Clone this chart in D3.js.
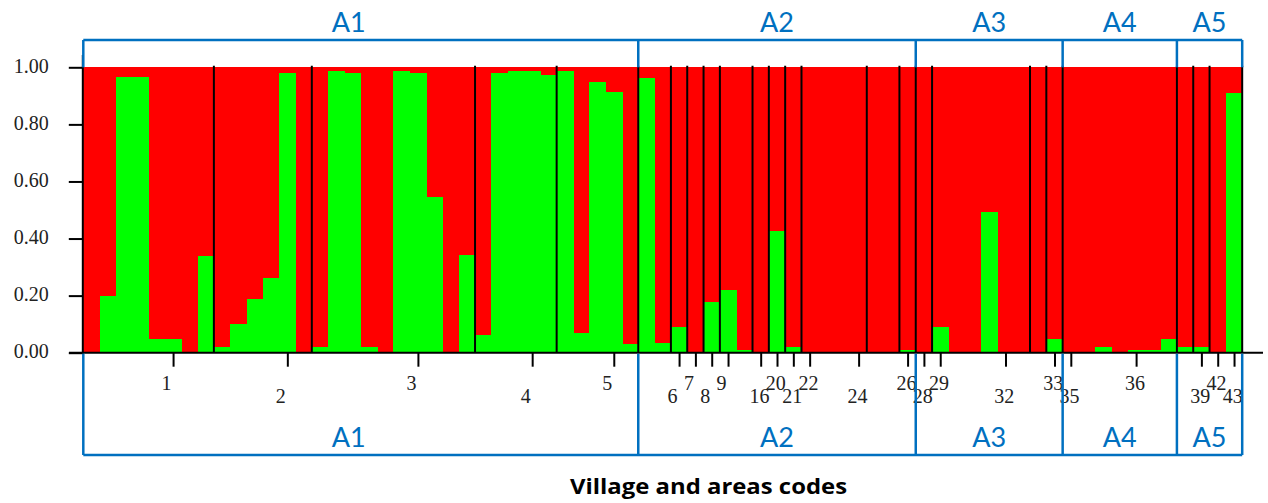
<!DOCTYPE html>
<html>
<head>
<meta charset="utf-8">
<script src="https://cdn.jsdelivr.net/npm/d3@7"></script>
<style>
  html, body { margin: 0; padding: 0; background: #ffffff; }
  svg { display: block; }
</style>
</head>
<body>
<svg id="chart" width="1268" height="503"></svg>
<script>
// ---- Data ----
// Green cluster membership (Q) of each individual, in plotting order; red = 1 - Q
const greenQ = [
  0, 0.20, 0.965, 0.965, 0.048, 0.048, 0, 0.34,          // village 1
  0.02, 0.10, 0.187, 0.26, 0.98, 0,                      // village 2
  0.02, 0.987, 0.981, 0.02, 0, 0.987, 0.981, 0.545, 0, 0.341, // village 3
  0.061, 0.981, 0.987, 0.987, 0.974,                     // village 4
  0.987, 0.07, 0.95, 0.914, 0.03,                        // village 5
  0.963, 0.033,                                          // 6
  0.091,                                                 // 7
  0,                                                     // 8
  0.177,                                                 // 9
  0.22, 0.01,                                            // 16
  0,                                                     // 20
  0.427,                                                 // 21
  0.02,                                                  // 22
  0, 0, 0, 0,                                            // 24
  0, 0,                                                  // 26
  0.01,                                                  // 28
  0,                                                     // 29
  0.09, 0, 0, 0.494, 0, 0,                               // 32
  0,                                                     // 33
  0.047,                                                 // 35
  0, 0, 0.02, 0, 0.01, 0.01, 0.047,                      // 36
  0.02,                                                  // 39
  0.02,                                                  // 42
  0, 0.911                                               // 43
];
// Village codes and number of individuals in each village group
const villageCodes = ["1","2","3","4","5","6","7","8","9","16","20","21","22","24","26","28","29","32","33","35","36","39","42","43"];
const villageSizes = [8, 6, 10, 5, 5, 2, 1, 1, 1, 2, 1, 1, 1, 4, 2, 1, 1, 6, 1, 1, 7, 1, 1, 2];
// Individual index under which each village code is written
const villageLabelAt = [5, 12, 20, 27, 32, 36, 37, 38, 39, 41, 42, 43, 44, 47, 50, 51, 52, 56, 59, 60, 64, 68, 69, 70];
// Areas and number of individuals in each
const areaNames = ["A1", "A2", "A3", "A4", "A5"];
const areaSizes = [34, 17, 9, 7, 4];
// Y axis ticks
const yTicks = [0, 0.2, 0.4, 0.6, 0.8, 1.0];
const xTitle = "Village and areas codes";

// ---- Layout ----
const svg = d3.select("#chart");
const pLeft = 83.3, pRight = 1242.2, pTop = 67.3, pBottom = 352.7;
const N = greenQ.length;
const x = d3.scaleLinear().domain([0, N]).range([pLeft, pRight]);
const y = d3.scaleLinear().domain([0, 1]).range([pBottom, pTop]);
const BLUE = "#0070C0";
const RED = "#ff0000", GREEN = "#00ff00";

// cumulative boundaries
const cum = arr => { const o = [0]; arr.forEach(v => o.push(o[o.length - 1] + v)); return o; };
const villBounds = cum(villageSizes);
const areaBounds = cum(areaSizes);

// ---- Bars ----
const bars = svg.append("g").attr("shape-rendering", "crispEdges");
bars.selectAll("rect.red").data(greenQ).join("rect")
  .attr("class", "red")
  .attr("x", (d, i) => x(i))
  .attr("width", (d, i) => x(i + 1) - x(i) + 0.6)
  .attr("y", y(1))
  .attr("height", y(0) - y(1))
  .attr("fill", RED);
bars.selectAll("rect.green").data(greenQ).join("rect")
  .attr("class", "green")
  .attr("x", (d, i) => x(i))
  .attr("width", (d, i) => x(i + 1) - x(i) + 0.6)
  .attr("y", d => y(d))
  .attr("height", d => y(0) - y(d))
  .attr("fill", GREEN);

// village separators
svg.append("g").selectAll("line").data(villBounds.slice(1)).join("line")
  .attr("x1", d => x(d)).attr("x2", d => x(d))
  .attr("y1", pTop - 1.5).attr("y2", pBottom)
  .attr("stroke", "#000").attr("stroke-width", 2);

// ---- Y axis ----
const yAxis = svg.append("g").attr("transform", `translate(${pLeft - 0.5},0)`)
  .call(d3.axisLeft(y).tickValues(yTicks).tickFormat(d3.format(".2f")).tickSize(14).tickPadding(20));
yAxis.select(".domain").remove();
yAxis.selectAll(".tick line").attr("stroke", "#000").attr("stroke-width", 2);
yAxis.selectAll(".tick text")
  .attr("font-family", "'Liberation Serif', 'DejaVu Serif', serif")
  .attr("font-size", 20).attr("fill", "#222").attr("dy", "0.25em");
svg.append("line")
  .attr("x1", pLeft - 0.5).attr("x2", pLeft - 0.5)
  .attr("y1", 55).attr("y2", pBottom + 1)
  .attr("stroke", "#000").attr("stroke-width", 2);

// ---- X axis ----
const xAxis = svg.append("g").attr("transform", `translate(0,${pBottom})`)
  .call(d3.axisBottom(x).tickValues(villageLabelAt.map(i => i + 0.5)).tickFormat("").tickSize(14));
xAxis.select(".domain").remove();
xAxis.selectAll(".tick line").attr("stroke", "#000").attr("stroke-width", 2);
svg.append("line")
  .attr("x1", 69).attr("x2", 1263)
  .attr("y1", pBottom).attr("y2", pBottom)
  .attr("stroke", "#000").attr("stroke-width", 2);

svg.append("g").selectAll("text").data(villageCodes).join("text")
  .attr("x", (d, i) => x(villageLabelAt[i] + 0.5) + (d.length === 1 ? -6.5 : -1.2))
  .attr("y", (d, i) => i % 2 === 0 ? 390 : 403)
  .attr("text-anchor", "middle")
  .attr("font-family", "'Liberation Serif', 'DejaVu Serif', serif")
  .attr("font-size", 20).attr("fill", "#222")
  .text(d => d);

// ---- Area brackets ----
const boxes = svg.append("g").attr("fill", "none").attr("stroke", BLUE).attr("stroke-width", 2.5);
// top bracket
boxes.append("line").attr("x1", x(0)).attr("x2", x(N)).attr("y1", 40).attr("y2", 40);
boxes.selectAll("line.tv").data(areaBounds).join("line").attr("class", "tv")
  .attr("x1", d => x(d)).attr("x2", d => x(d)).attr("y1", 40).attr("y2", pTop);
// bottom bracket
boxes.append("line").attr("x1", x(0)).attr("x2", x(N)).attr("y1", 455).attr("y2", 455);
boxes.selectAll("line.bv").data(areaBounds).join("line").attr("class", "bv")
  .attr("x1", d => x(d)).attr("x2", d => x(d)).attr("y1", pBottom + 1).attr("y2", 455);

const areaMid = areaNames.map((n, i) => (x(areaBounds[i]) + x(areaBounds[i + 1])) / 2);
[31.5, 447].forEach(by => {
  svg.append("g").selectAll("text").data(areaNames).join("text")
    .attr("x", (d, i) => areaMid[i] - (i === 0 ? 12 : 0))
    .attr("y", by)
    .attr("text-anchor", "middle")
    .attr("font-family", "Lato, 'Open Sans', sans-serif")
    .attr("font-size", 27).attr("fill", BLUE)
    .text(d => d);
});

// ---- X title ----
svg.append("text")
  .attr("x", 708.5).attr("y", 494)
  .attr("text-anchor", "middle")
  .attr("font-family", "'Open Sans', Lato, sans-serif")
  .attr("font-weight", "bold")
  .attr("font-size", 21).attr("fill", "#000")
  .attr("textLength", 277).attr("lengthAdjust", "spacingAndGlyphs")
  .text(xTitle);
</script>
</body>
</html>
